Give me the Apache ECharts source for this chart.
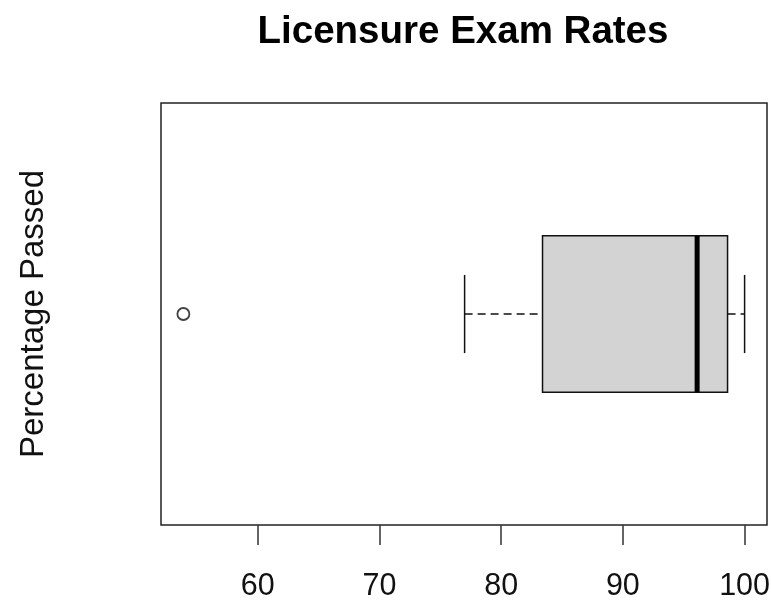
<!DOCTYPE html>
<html>
<head>
<meta charset="utf-8">
<script src="https://cdn.jsdelivr.net/npm/echarts@6/dist/echarts.min.js"></script>
<style>html,body{margin:0;padding:0;background:#fff}#c{width:771px;height:600px}</style>
</head>
<body>
<div id="c"></div>
<script>
// ---- data ----
const groups = [1];
const whiskerLow = [77.0];
const q1 = [83.4];
const median = [96.1];
const q3 = [98.6];
const whiskerHigh = [100];
const outlierGroup = [1];
const outlierValue = [53.9];
const xTicks = [60, 70, 80, 90, 100];
const titleText = 'Licensure Exam Rates';
const yLabel = 'Percentage Passed';

const boxData = groups.map((g, i) => [g, whiskerLow[i], q1[i], median[i], q3[i], whiskerHigh[i]]);
const outData = outlierGroup.map((g, i) => [outlierValue[i], g]);

const BOX_HALF = 0.2, CAP_HALF = 0.1;
const FONT = 'Liberation Sans, Arial, sans-serif';

const chart = echarts.init(document.getElementById('c'), null, {renderer: 'canvas'});
chart.setOption({
  animation: false,
  backgroundColor: '#fff',
  title: {
    text: titleText, left: 458, top: 8, textAlign: 'center',
    textStyle: {fontFamily: FONT, fontWeight: 'bold', fontSize: 38.5, color: '#000'}
  },
  grid: {left: 161, right: 4, top: 103, bottom: 75, show: true, borderColor: '#222', borderWidth: 1.5,
         backgroundColor: 'transparent', containLabel: false, outerBoundsMode: 'none'},
  xAxis: {
    type: 'value', min: 52.06, max: 101.84,
    axisLine: {show: false},
    splitLine: {show: false},
    axisTick: {show: true, length: 20, customValues: xTicks, lineStyle: {color: '#333', width: 1.5}},
    axisLabel: {customValues: xTicks, fontFamily: FONT, fontSize: 30.5, color: '#111', margin: 46, hideOverlap: false}
  },
  yAxis: {
    type: 'value', min: 0.46, max: 1.54,
    axisLine: {show: false}, axisTick: {show: false}, axisLabel: {show: false}, splitLine: {show: false},
    name: yLabel, nameLocation: 'middle', nameRotate: 90, nameGap: 111,
    nameTextStyle: {fontFamily: FONT, fontSize: 33, color: '#111'}
  },
  series: [{
    type: 'custom',
    data: boxData,
    renderItem: function (params, api) {
      const g = api.value(0);
      const lo = api.value(1), a = api.value(2), m = api.value(3), b = api.value(4), hi = api.value(5);
      const pLo = api.coord([lo, g]), pA = api.coord([a, g]), pM = api.coord([m, g]), pB = api.coord([b, g]), pHi = api.coord([hi, g]);
      const yBoxT = api.coord([a, g + BOX_HALF])[1], yBoxB = api.coord([a, g - BOX_HALF])[1];
      const yCapT = api.coord([a, g + CAP_HALF])[1], yCapB = api.coord([a, g - CAP_HALF])[1];
      const yc = pM[1];
      const stroke = {stroke: '#111', lineWidth: 1.5, fill: null};
      const dashed = {stroke: '#111', lineWidth: 1.5, lineDash: [8, 5], fill: null};
      return {
        type: 'group',
        children: [
          {type: 'line', shape: {x1: pLo[0], y1: yc, x2: pA[0], y2: yc}, style: dashed},
          {type: 'line', shape: {x1: pB[0], y1: yc, x2: pHi[0], y2: yc}, style: dashed},
          {type: 'line', shape: {x1: pLo[0], y1: yCapT, x2: pLo[0], y2: yCapB}, style: stroke},
          {type: 'line', shape: {x1: pHi[0], y1: yCapT, x2: pHi[0], y2: yCapB}, style: stroke},
          {type: 'rect', shape: {x: pA[0], y: yBoxT, width: pB[0] - pA[0], height: yBoxB - yBoxT}, style: {fill: '#d3d3d3', stroke: '#111', lineWidth: 1.5}},
          {type: 'line', shape: {x1: pM[0], y1: yBoxT, x2: pM[0], y2: yBoxB}, style: {stroke: '#000', lineWidth: 5}}
        ]
      };
    }
  }, {
    type: 'scatter',
    data: outData,
    symbol: 'circle', symbolSize: 12,
    itemStyle: {color: '#fff', borderColor: '#111', borderWidth: 1.8}
  }]
});
</script>
</body>
</html>
